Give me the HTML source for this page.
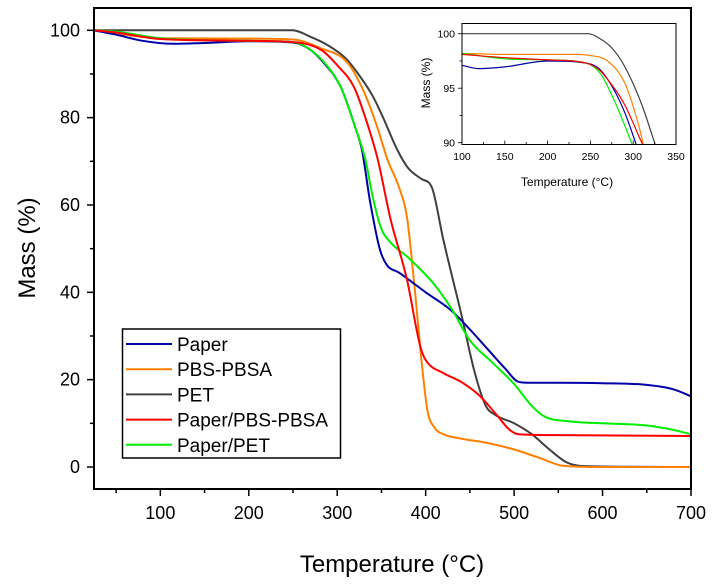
<!DOCTYPE html>
<html><head><meta charset="utf-8"><style>
html,body{margin:0;padding:0;background:#fff;}
svg{display:block;font-family:"Liberation Sans",Arial,sans-serif;}
</style></head><body>
<svg id="chart" width="714" height="588" viewBox="0 0 714 588">
<defs>
<clipPath id="mainClip"><rect x="94" y="8" width="597" height="481"/></clipPath>
<clipPath id="insetClip"><rect x="462" y="23" width="214" height="121"/></clipPath>
</defs>
<g id="main"></g>
<g id="inset"></g>
<g id="legend"></g>
</svg>
<script>
const seriesNames = ["Paper","PBS-PBSA","PET","Paper/PBS-PBSA","Paper/PET"];
const seriesColors = ["#0000a8","#ff8000","#404040","#ff0000","#00ee00"];
const paperT = [25,50,80,115,150,200,250,270,285,304,320,328,337,348,356,370,400,428,450,470,490,505,515,550,600,650,680,700];
const paperV = [100,99,97.6,96.9,97.1,97.5,97.2,95.5,92.5,87,78,72.6,61,50,46.3,44.5,40,36,31.5,27,22.5,19.5,19.3,19.3,19.2,18.8,17.8,16.2];
const pbsT = [25,100,200,250,280,312,330,345,357,370,379,388,395,402,410,420,440,470,500,530,555,600,700];
const pbsV = [100,98.2,98.1,97.9,96,92.5,86,78,70.3,64,57,40,25,13,9,7.5,6.5,5.5,4,2,0.3,0,0];
const petT = [25,200,249,270,290,310,323,340,353,368,380,395,407,420,441,455,468,478,500,520,540,560,580,700];
const petV = [100,100,100,98.5,96.5,93.5,90.2,85,79.5,72.6,68.5,66,64,52,34.4,22,14,12,10,7.5,4,1,0.2,0];
const ppbsT = [25,50,100,200,250,282,300,319,335,346,360,379,394,400,420,440,460,480,495,505,550,700];
const ppbsV = [100,99.5,98,97.6,97.3,95.5,92,87,78,70.3,57,42.8,27.5,24.5,21.5,19.5,16.5,12,8.5,7.5,7.3,7.1];
const ppetT = [25,50,100,200,250,270,290,304,320,332,340,349,360,380,409,430,450,475,500,520,535,560,600,650,680,700];
const ppetV = [100,99.7,98.2,97.6,97.3,95.5,91.5,87,78,70.3,62,55,51.5,48,42,36,29,24,19,14,11.5,10.5,10,9.5,8.5,7.5];
const insetPaperT = [100,120,150,200,245,260,275,290,305];
const insetPaperV = [97.1,96.8,96.95,97.5,97.3,96.8,95.2,92.8,89.5];
const insetPbsT = [100,150,230,250,270,290,305,313];
const insetPbsV = [98.2,98.1,98.1,98,97.5,95.5,92,89.5];
const insetPetT = [100,248,260,275,290,310,325,330];
const insetPetV = [100,100,99.6,98.7,97,93.5,90,88.8];
const insetPpbsT = [100,150,200,245,260,275,290,310,313];
const insetPpbsV = [98.1,97.8,97.6,97.3,96.7,95.3,93.5,90,89.5];
const insetPpetT = [100,150,200,240,260,280,298,300];
const insetPpetV = [98.2,97.7,97.6,97.4,96.5,93.5,90,89.6];
const mainXTicks = [100,200,300,400,500,600,700];
const mainYTicks = [0,20,40,60,80,100];
const insetXTicks = [100,150,200,250,300,350];
const insetYTicks = [90,95,100];

const NS="http://www.w3.org/2000/svg";
function mk(tag,attrs,parent){const e=document.createElementNS(NS,tag);for(const k in attrs)e.setAttribute(k,attrs[k]);parent.appendChild(e);return e;}
const mx=t=>94+(t-25)*0.88444;
const my=v=>467-v*4.367;
const ix=t=>462+(t-100)*(214/250);
const iy=v=>33.7+(100-v)*10.9;

// monotone cubic path through pixel points (x increasing)
function monoPath(xs,ys){
  const n=xs.length;const d=[],m=new Array(n);
  for(let i=0;i<n-1;i++)d.push((ys[i+1]-ys[i])/(xs[i+1]-xs[i]));
  m[0]=d[0];m[n-1]=d[n-2];
  for(let i=1;i<n-1;i++){m[i]=(d[i-1]*d[i]<=0)?0:(d[i-1]+d[i])/2;}
  for(let i=0;i<n-1;i++){
    if(d[i]===0){m[i]=0;m[i+1]=0;continue;}
    const a=m[i]/d[i],b=m[i+1]/d[i],s=a*a+b*b;
    if(s>9){const t=3/Math.sqrt(s);m[i]=t*a*d[i];m[i+1]=t*b*d[i];}
  }
  let p='M'+xs[0].toFixed(1)+','+ys[0].toFixed(1);
  for(let i=0;i<n-1;i++){
    const h=(xs[i+1]-xs[i])/3;
    p+=' C'+(xs[i]+h).toFixed(1)+','+(ys[i]+m[i]*h).toFixed(1)+' '+(xs[i+1]-h).toFixed(1)+','+(ys[i+1]-m[i+1]*h).toFixed(1)+' '+xs[i+1].toFixed(1)+','+ys[i+1].toFixed(1);
  }
  return p;
}

const main=document.getElementById('main');
const inset=document.getElementById('inset');
const legend=document.getElementById('legend');
const mainData=[[paperT,paperV],[pbsT,pbsV],[petT,petV],[ppbsT,ppbsV],[ppetT,ppetV]];
const insetData=[[insetPaperT,insetPaperV],[insetPbsT,insetPbsV],[insetPetT,insetPetV],[insetPpbsT,insetPpbsV],[insetPpetT,insetPpetV]];
const drawOrder=[2,1,0,4,3];

const mg=mk('g',{'clip-path':'url(#mainClip)'},main);
drawOrder.forEach(i=>{
  const [T,V]=mainData[i];
  const p=mk('path',{d:monoPath(T.map(mx),V.map(my)),fill:'none',stroke:seriesColors[i],'stroke-width':2,'stroke-linejoin':'round'},mg);
  
  
});
const mf=mk('rect',{x:94,y:8,width:597,height:481,fill:'none',stroke:'#000','stroke-width':2},main);


for(let t=50;t<=700;t+=50){
  const major=t%100===0;
  mk('line',{x1:mx(t),x2:mx(t),y1:489,y2:489+(major?7:4),stroke:'#000','stroke-width':1.5},main);
}
mainXTicks.forEach(t=>{
  const tx=mk('text',{x:mx(t),y:519,'font-size':18,'text-anchor':'middle',fill:'#000'},main);
  tx.textContent=t;
  
  
});
for(let v=0;v<=100;v+=10){
  const major=v%20===0;
  mk('line',{x1:94,x2:94-(major?7:4),y1:my(v),y2:my(v),stroke:'#000','stroke-width':1.5},main);
}
mainYTicks.forEach(v=>{
  const tx=mk('text',{x:80,y:my(v)+6,'font-size':18,'text-anchor':'end',fill:'#000'},main);
  tx.textContent=v;
  
  
});
const xt=mk('text',{x:392,y:572,'font-size':24,'text-anchor':'middle',fill:'#000'},main);
xt.textContent='Temperature (°C)';


const yt=mk('text',{x:0,y:0,'font-size':24,'text-anchor':'middle',fill:'#000',transform:'translate(35,248) rotate(-90)'},main);
yt.textContent='Mass (%)';



const ig=mk('g',{'clip-path':'url(#insetClip)'},inset);
drawOrder.forEach(i=>{
  const [T,V]=insetData[i];
  const p=mk('path',{d:monoPath(T.map(ix),V.map(iy)),fill:'none',stroke:seriesColors[i],'stroke-width':1.2,'stroke-linejoin':'round'},ig);
  
  
});
const inf=mk('rect',{x:462,y:23.5,width:214,height:121,fill:'none',stroke:'#000','stroke-width':1},inset);


for(let t=100;t<=350;t+=25){
  const major=t%50===0;
  mk('line',{x1:ix(t),x2:ix(t),y1:144.5,y2:144.5-(major?4:2.5),stroke:'#000','stroke-width':0.8},inset);
}
insetXTicks.forEach(t=>{
  const tx=mk('text',{x:ix(t),y:160,'font-size':10.5,'text-anchor':'middle',fill:'#000'},inset);
  tx.textContent=t;
  
  
});
for(let v=90;v<=100;v+=2.5){
  const major=v%5===0;
  mk('line',{x1:462,x2:462-(major?4:2.5),y1:iy(v),y2:iy(v),stroke:'#000','stroke-width':0.8},inset);
}
insetYTicks.forEach(v=>{
  const tx=mk('text',{x:455,y:iy(v)+4,'font-size':10.5,'text-anchor':'end',fill:'#000'},inset);
  tx.textContent=v;
  
  
});
const ixt=mk('text',{x:567,y:186,'font-size':12,'text-anchor':'middle',fill:'#000'},inset);
ixt.textContent='Temperature (°C)';


const iyt=mk('text',{x:0,y:0,'font-size':12,'text-anchor':'middle',fill:'#000',transform:'translate(430,83) rotate(-90)'},inset);
iyt.textContent='Mass (%)';



const lb=mk('rect',{x:122.5,y:329,width:218,height:129,fill:'#fff',stroke:'#000','stroke-width':1.5},legend);


seriesNames.forEach((n,i)=>{
  const y=344+i*25.2;
  const g=mk('g',{},legend);
  
  
  mk('line',{x1:126,x2:172,y1:y,y2:y,stroke:seriesColors[i],'stroke-width':2},g);
  const tx=mk('text',{x:177,y:y+7,'font-size':19,fill:'#000'},g);
  tx.textContent=n;
});
</script>
</body></html>
